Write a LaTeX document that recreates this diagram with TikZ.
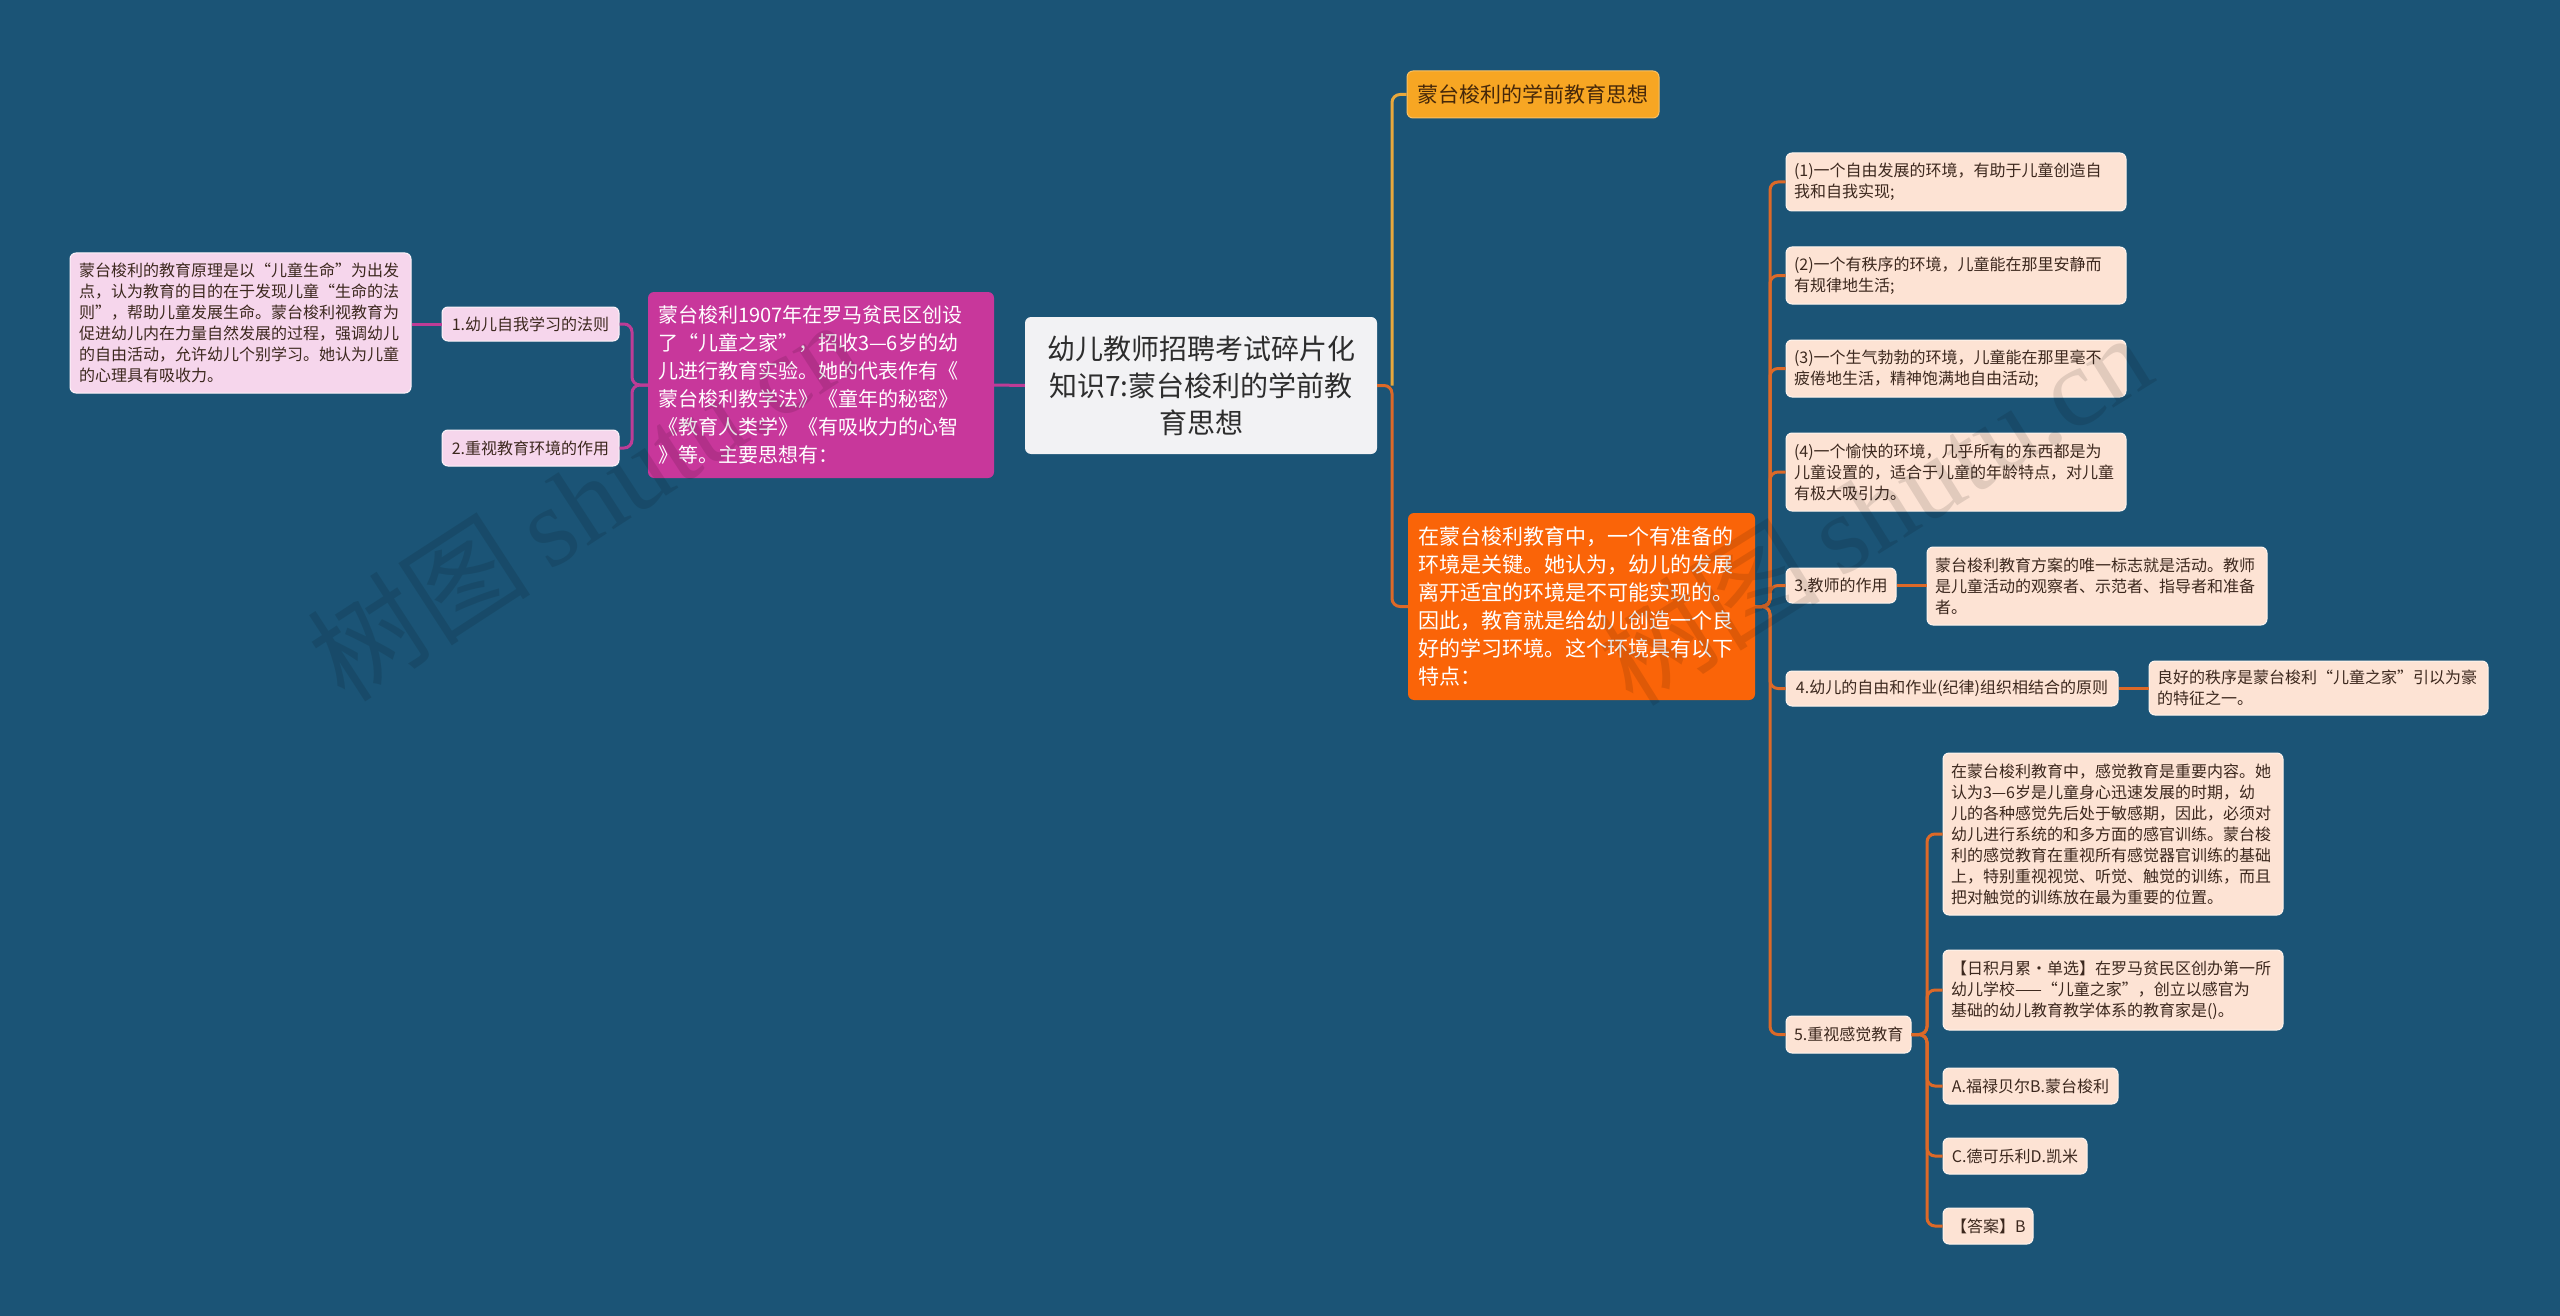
\documentclass[tikz,border=0pt]{standalone}
\usepackage{fontspec}
\setmainfont{Noto Sans CJK SC}
\newfontfamily\wmfont{Liberation Serif}
\newfontfamily\wmcjk{Noto Sans CJK SC}
\usetikzlibrary{calc}
\definecolor{bg}{RGB}{27,84,118}
\definecolor{rootfill}{RGB}{242,242,244}
\definecolor{roottext}{RGB}{45,45,45}
\definecolor{mag}{RGB}{200,55,155}
\definecolor{magline}{RGB}{190,60,150}
\definecolor{pinkleaf}{RGB}{246,214,236}
\definecolor{yel}{RGB}{247,166,35}
\definecolor{yelline}{RGB}{232,168,60}
\definecolor{yeltext}{RGB}{70,40,10}
\definecolor{org}{RGB}{250,100,8}
\definecolor{orgline}{RGB}{220,105,40}
\definecolor{peach}{RGB}{253,227,212}
\definecolor{leaftext}{RGB}{60,40,30}
\tikzset{
  nbox/.style={rounded corners=6pt, inner ysep=0pt, inner xsep=9pt},
  rootbox/.style={nbox, fill=rootfill, text=roottext, align=center, inner xsep=12pt, font=\fontsize{28}{37}\selectfont},
  magbox/.style={nbox, fill=mag, text=white, align=left, inner xsep=10pt, font=\fontsize{20}{28}\selectfont},
  pinkbox/.style={nbox, fill=pinkleaf, draw=white!70!pinkleaf, line width=1pt, text=leaftext, font=\fontsize{16}{21}\selectfont},
  yelbox/.style={nbox, fill=yel, draw=yel!70!white, line width=1pt, text=yeltext, align=center, font=\fontsize{21}{28}\selectfont},
  orgbox/.style={nbox, fill=org, text=white, align=left, inner xsep=10pt, font=\fontsize{21}{28}\selectfont},
  peachbox/.style={nbox, fill=peach, draw=white!60!peach, line width=1pt, text=leaftext, inner xsep=8pt, font=\fontsize{16}{21}\selectfont},
  lnM/.style={draw=magline, line width=3pt, rounded corners=8pt},
  lnY/.style={draw=yelline, line width=3pt, rounded corners=8pt},
  lnO/.style={draw=orgline, line width=3pt, rounded corners=8pt},
  wmark/.style={text=black, opacity=0.11, font=\fontsize{112}{112}\selectfont, anchor=south west, inner sep=0pt}
}
\begin{document}
\begin{tikzpicture}[x=1pt,y=-1pt]
\path[fill=bg, use as bounding box] (0,0) rectangle (2560,1316);

% bus coordinates
\coordinate (busL) at (632,0);
\coordinate (busR) at (1392,0);
\coordinate (busO) at (1770,0);
\coordinate (busF) at (1927,0);

% root
\node[rootbox, text width=328pt, minimum height=137pt] (root) at (1201,385.5) {幼儿教师招聘考试碎片化\\知识7:蒙台梭利的学前教\\育思想};

% left branch
\node[magbox, text width=326pt, minimum height=186pt] (mag) at (821,385) {蒙台梭利1907年在罗马贫民区创设\\了“儿童之家”，招收3—6岁的幼\\儿进行教育实验。她的代表作有《\\蒙台梭利教学法》《童年的秘密》\\《教育人类学》《有吸收力的心智\\》等。主要思想有：};
\node[pinkbox, align=center, text width=159pt, minimum height=34pt] (l1) at (530.5,324) {1.幼儿自我学习的法则};
\node[pinkbox, align=center, text width=159pt, minimum height=36pt] (l2) at (530.5,448) {2.重视教育环境的作用};
\node[pinkbox, align=left, text width=323pt, minimum height=140pt] (l1a) at (240.5,323) {蒙台梭利的教育原理是以“儿童生命”为出发\\点，认为教育的目的在于发现儿童“生命的法\\则”，帮助儿童发展生命。蒙台梭利视教育为\\促进幼儿内在力量自然发展的过程，强调幼儿\\的自由活动，允许幼儿个别学习。她认为儿童\\的心理具有吸收力。};

% right branch
\node[yelbox, text width=234pt, minimum height=47pt] (top) at (1533,94.5) {蒙台梭利的学前教育思想};
\node[orgbox, text width=327pt, minimum height=187pt] (big) at (1581.5,606.5) {在蒙台梭利教育中，一个有准备的\\环境是关键。她认为，幼儿的发展\\离开适宜的环境是不可能实现的。\\因此，教育就是给幼儿创造一个良\\好的学习环境。这个环境具有以下\\特点：};

\node[peachbox, align=left, text width=324pt, minimum height=58pt] (r1) at (1956,182) {(1)一个自由发展的环境，有助于儿童创造自\\我和自我实现;};
\node[peachbox, align=left, text width=324pt, minimum height=57pt] (r2) at (1956,275.5) {(2)一个有秩序的环境，儿童能在那里安静而\\有规律地生活;};
\node[peachbox, align=left, text width=324pt, minimum height=57pt] (r3) at (1956,368.5) {(3)一个生气勃勃的环境，儿童能在那里毫不\\疲倦地生活，精神饱满地自由活动;};
\node[peachbox, align=left, text width=324pt, minimum height=78pt] (r4) at (1956,472) {(4)一个愉快的环境，几乎所有的东西都是为\\儿童设置的，适合于儿童的年龄特点，对儿童\\有极大吸引力。};

\node[peachbox, align=center, text width=94pt, minimum height=35pt] (t3) at (1841,585.5) {3.教师的作用};
\node[peachbox, align=left, text width=324pt, minimum height=78pt] (t3a) at (2097,586) {蒙台梭利教育方案的唯一标志就是活动。教师\\是儿童活动的观察者、示范者、指导者和准备\\者。};

\node[peachbox, align=center, text width=316pt, minimum height=35pt] (t4) at (1952,688.5) {4.幼儿的自由和作业(纪律)组织相结合的原则};
\node[peachbox, align=left, text width=323pt, minimum height=54pt] (t4a) at (2318.5,688) {良好的秩序是蒙台梭利“儿童之家”引以为豪\\的特征之一。};

\node[peachbox, align=center, text width=109pt, minimum height=37pt] (t5) at (1848.5,1034.5) {5.重视感觉教育};
\node[peachbox, align=left, text width=324pt, minimum height=162pt] (s1) at (2113,834) {在蒙台梭利教育中，感觉教育是重要内容。她\\认为3—6岁是儿童身心迅速发展的时期，幼\\儿的各种感觉先后处于敏感期，因此，必须对\\幼儿进行系统的和多方面的感官训练。蒙台梭\\利的感觉教育在重视所有感觉器官训练的基础\\上，特别重视视觉、听觉、触觉的训练，而且\\把对触觉的训练放在最为重要的位置。};
\node[peachbox, align=left, text width=324pt, minimum height=80pt] (s2) at (2113,990) {【日积月累·单选】在罗马贫民区创办第一所\\幼儿学校——“儿童之家”，创立以感官为\\基础的幼儿教育教学体系的教育家是()。};
\node[peachbox, align=center, text width=159pt, minimum height=36pt] (s3) at (2030.5,1086) {A.福禄贝尔B.蒙台梭利};
\node[peachbox, align=center, text width=128pt, minimum height=36pt] (s4) at (2015,1156) {C.德可乐利D.凯米};
\node[peachbox, align=center, text width=74pt, minimum height=36pt] (s5) at (1988,1226) {【答案】B};

% connectors
\draw[lnM] (mag.east) -- (root.west);
\draw[lnM] (mag.west) -- (mag.west -| busL) |- (l1.east);
\draw[lnM] (mag.west) -- (mag.west -| busL) |- (l2.east);
\draw[lnM] (l1.west) -- (l1.west -| l1a.east);

\draw[lnO] (root.east) -- (root.east -| busR) |- (big.west);
\draw[lnY] (root.east -| busR) |- (top.west);

\foreach \c in {r1,r2,r3,r4,t3,t4,t5}{
  \draw[lnO] (big.east) -- (big.east -| busO) |- (\c.west);
}
\draw[lnO] (t3.east) -- (t3.east -| t3a.west);
\draw[lnO] (t4.east) -- (t4.east -| t4a.west);
\foreach \c in {s1,s2,s3,s4,s5}{
  \draw[lnO] (t5.east) -- (t5.east -| busF) |- (\c.west);
}

% watermarks
\node[wmark, rotate=33] (wm1) at (350,712) {\wmcjk 树图\hspace{20pt}\wmfont shutu.cn};
\node[wmark, rotate=32] (wm2) at (1638,716) {\wmcjk 树图\hspace{20pt}\wmfont shutu.cn};
\end{tikzpicture}
\end{document}
